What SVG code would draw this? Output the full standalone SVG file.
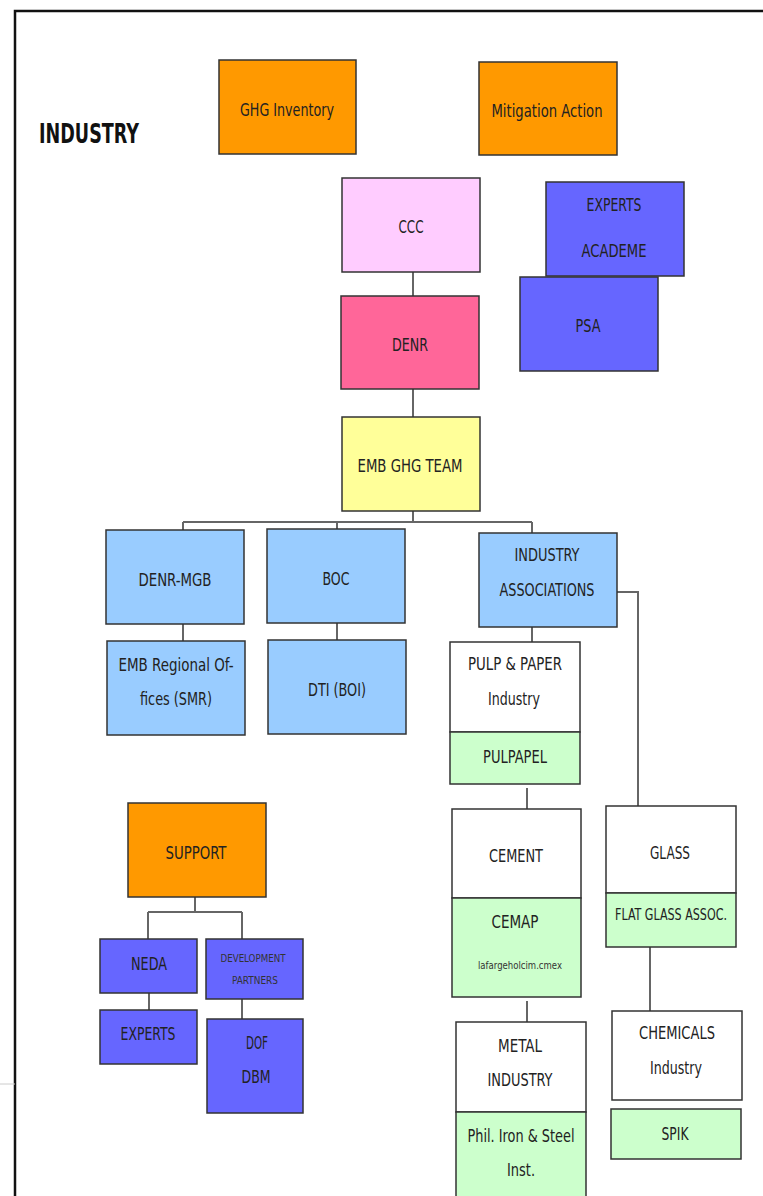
<svg xmlns="http://www.w3.org/2000/svg" width="763" height="1196" viewBox="0 0 763 1196">
<style>
.b{stroke:#333;stroke-width:1.5}
.or{fill:#FF9900}.pk{fill:#FFCCFF}.mg{fill:#FF6699}.pu{fill:#6666FF}.ye{fill:#FFFF99}.lb{fill:#99CCFF}.wh{fill:#FFFFFF}.gr{fill:#CCFFCC}
text{font-family:"DejaVu Sans Condensed","Liberation Sans",sans-serif;font-size:18px;fill:#222;text-anchor:middle}
.t{font-size:27px;font-weight:bold;text-anchor:start;fill:#111}
.s{font-size:11px;fill:#333}
.m{font-size:15px}
.c{stroke:#666;stroke-width:2;fill:none}
</style>
<rect x="0" y="0" width="763" height="1196" fill="#fff"/>
<path d="M15 1210 V11 H780" fill="none" stroke="#111" stroke-width="2.5"/>
<line x1="0" y1="1084" x2="15" y2="1084" stroke="#ccc" stroke-width="1"/>
<text class="t" x="39" y="143" textLength="100" lengthAdjust="spacingAndGlyphs">INDUSTRY</text>
<g id="connectors">
<path class="c" d="M413 272V296M413 389V417M413 511V522M183 522H532M183 522V530M337 522V529M532 522V533M183 624V641M337 623V640M532 627V642M617 592H638V806M527 788V809M527 1001V1022M650 947V1011M195 897V912M148 912H242M148 912V939M242 912V939M149 993V1010M242 999V1019"/>
</g>
<g id="ghg"><rect class="b or" x="219" y="60" width="137" height="94"/><text x="287" y="116" textLength="94" lengthAdjust="spacingAndGlyphs">GHG Inventory</text></g>
<g id="mitigation"><rect class="b or" x="479" y="62" width="138" height="93"/><text x="547" y="117" textLength="111" lengthAdjust="spacingAndGlyphs">Mitigation Action</text></g>
<g id="ccc"><rect class="b pk" x="342" y="178" width="138" height="94"/><text x="411" y="233" textLength="25" lengthAdjust="spacingAndGlyphs">CCC</text></g>
<g id="denr"><rect class="b mg" x="341" y="296" width="138" height="93"/><text x="410" y="351" textLength="36" lengthAdjust="spacingAndGlyphs">DENR</text></g>
<g id="experts-academe"><rect class="b pu" x="546" y="182" width="138" height="94"/><text x="614" y="211" textLength="55" lengthAdjust="spacingAndGlyphs">EXPERTS</text><text x="614" y="257" textLength="65" lengthAdjust="spacingAndGlyphs">ACADEME</text></g>
<g id="psa"><rect class="b pu" x="520" y="277" width="138" height="94"/><text x="588" y="332" textLength="25" lengthAdjust="spacingAndGlyphs">PSA</text></g>
<g id="emb"><rect class="b ye" x="342" y="417" width="138" height="94"/><text x="410" y="472" textLength="105" lengthAdjust="spacingAndGlyphs">EMB GHG TEAM</text></g>
<g id="denr-mgb"><rect class="b lb" x="106" y="530" width="138" height="94"/><text x="175" y="586" textLength="73" lengthAdjust="spacingAndGlyphs">DENR-MGB</text></g>
<g id="boc"><rect class="b lb" x="267" y="529" width="138" height="94"/><text x="336" y="585" textLength="27" lengthAdjust="spacingAndGlyphs">BOC</text></g>
<g id="industry-assoc"><rect class="b lb" x="479" y="533" width="138" height="94"/><text x="547" y="561" textLength="65" lengthAdjust="spacingAndGlyphs">INDUSTRY</text><text x="547" y="596" textLength="95" lengthAdjust="spacingAndGlyphs">ASSOCIATIONS</text></g>
<g id="emb-regional"><rect class="b lb" x="107" y="641" width="138" height="94"/><text x="176" y="671" textLength="115" lengthAdjust="spacingAndGlyphs">EMB Regional  Of-</text><text x="176" y="705" textLength="72" lengthAdjust="spacingAndGlyphs">fices (SMR)</text></g>
<g id="dti"><rect class="b lb" x="268" y="640" width="138" height="94"/><text x="337" y="696" textLength="58" lengthAdjust="spacingAndGlyphs">DTI (BOI)</text></g>
<g id="pulp"><rect class="b wh" x="450" y="642" width="130" height="90"/><text x="515" y="670" textLength="94" lengthAdjust="spacingAndGlyphs">PULP &amp; PAPER</text><text x="514" y="705" textLength="52" lengthAdjust="spacingAndGlyphs">Industry</text></g>
<g id="pulpapel"><rect class="b gr" x="450" y="732" width="130" height="52"/><text x="515" y="763" textLength="64" lengthAdjust="spacingAndGlyphs">PULPAPEL</text></g>
<g id="cement"><rect class="b wh" x="452" y="809" width="129" height="89"/><text x="516" y="862" textLength="54" lengthAdjust="spacingAndGlyphs">CEMENT</text></g>
<g id="cemap"><rect class="b gr" x="452" y="898" width="129" height="99"/><text x="515" y="928" textLength="47" lengthAdjust="spacingAndGlyphs">CEMAP</text><text class="s" x="520" y="969" textLength="84" lengthAdjust="spacingAndGlyphs">lafargeholcim.cmex</text></g>
<g id="metal"><rect class="b wh" x="456" y="1022" width="130" height="90"/><text x="520" y="1052" textLength="44" lengthAdjust="spacingAndGlyphs">METAL</text><text x="520" y="1086" textLength="65" lengthAdjust="spacingAndGlyphs">INDUSTRY</text></g>
<g id="phil-iron"><rect class="b gr" x="456" y="1112" width="130" height="100"/><text x="521" y="1142" textLength="107" lengthAdjust="spacingAndGlyphs">Phil. Iron &amp; Steel</text><text x="521" y="1176" textLength="28" lengthAdjust="spacingAndGlyphs">Inst.</text></g>
<g id="glass"><rect class="b wh" x="606" y="806" width="130" height="87"/><text x="670" y="859" textLength="40" lengthAdjust="spacingAndGlyphs">GLASS</text></g>
<g id="flat-glass"><rect class="b gr" x="606" y="893" width="130" height="54"/><text class="m" x="671" y="920" textLength="112" lengthAdjust="spacingAndGlyphs">FLAT GLASS ASSOC.</text></g>
<g id="chemicals"><rect class="b wh" x="612" y="1011" width="130" height="89"/><text x="677" y="1039" textLength="76" lengthAdjust="spacingAndGlyphs">CHEMICALS</text><text x="676" y="1074" textLength="52" lengthAdjust="spacingAndGlyphs">Industry</text></g>
<g id="spik"><rect class="b gr" x="611" y="1109" width="130" height="50"/><text x="675" y="1140" textLength="27" lengthAdjust="spacingAndGlyphs">SPIK</text></g>
<g id="support"><rect class="b or" x="128" y="803" width="138" height="94"/><text x="196" y="859" textLength="61" lengthAdjust="spacingAndGlyphs">SUPPORT</text></g>
<g id="neda"><rect class="b pu" x="100" y="939" width="97" height="54"/><text x="149" y="970" textLength="36" lengthAdjust="spacingAndGlyphs">NEDA</text></g>
<g id="dev-partners"><rect class="b pu" x="206" y="939" width="97" height="60"/><text class="s" x="253" y="962" textLength="65" lengthAdjust="spacingAndGlyphs">DEVELOPMENT</text><text class="s" x="255" y="984" textLength="46" lengthAdjust="spacingAndGlyphs">PARTNERS</text></g>
<g id="experts"><rect class="b pu" x="100" y="1010" width="97" height="54"/><text x="148" y="1040" textLength="55" lengthAdjust="spacingAndGlyphs">EXPERTS</text></g>
<g id="dof-dbm"><rect class="b pu" x="207" y="1019" width="96" height="94"/><text x="257" y="1049" textLength="22" lengthAdjust="spacingAndGlyphs">DOF</text><text x="256" y="1083" textLength="29" lengthAdjust="spacingAndGlyphs">DBM</text></g>
</svg>
